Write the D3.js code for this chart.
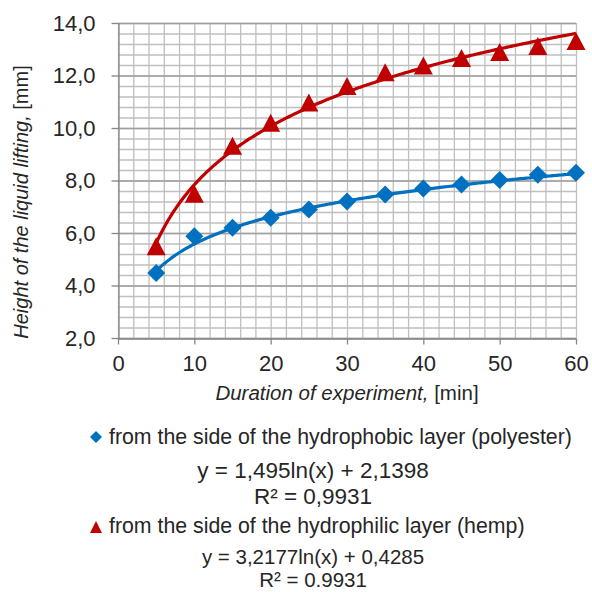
<!DOCTYPE html>
<html>
<head>
<meta charset="utf-8">
<script src="https://cdn.jsdelivr.net/npm/d3@7"></script>
<style>
  body { margin: 0; background: #fff; }
  text { font-family: "Liberation Sans", Arial, sans-serif; fill: #262626; }
</style>
</head>
<body>
<div id="chart-area"></div>
<script>
// data
const minutes = [5, 10, 15, 20, 25, 30, 35, 40, 45, 50, 55, 60];
const polyester = [4.48, 5.88, 6.2, 6.58, 6.9, 7.2, 7.47, 7.7, 7.85, 8.02, 8.22, 8.3];
const hemp = [5.5, 7.5, 9.32, 10.2, 10.97, 11.6, 12.12, 12.38, 12.67, 12.9, 13.12, 13.31];
// log trendlines y = a ln(x) + b, as printed on the chart
const polyesterFit = [1.495, 2.1398];
const hempFit = [3.2177, 0.4285];
const xTicks = [0, 10, 20, 30, 40, 50, 60];
const yTicks = [2, 4, 6, 8, 10, 12, 14];
const legendLabels = [
	"from the side of the hydrophobic layer (polyester)",
	"from the side of the hydrophilic layer (hemp)"
];
const equations = [
	["y = 1,495ln(x) + 2,1398", "R² = 0,9931"],
	["y = 3,2177ln(x) + 0,4285", "R² = 0.9931"]
];

const blue = "#0070c0";
const red = "#c00000";

const svg = d3.select("#chart-area")
	.append("svg")
	.attr("width", 592)
	.attr("height", 592);

const x = d3.scaleLinear().domain([0, 60]).range([118, 576]);
const y = d3.scaleLinear().domain([2, 14]).range([338, 23]);

// minor grid
svg.append("g")
	.selectAll("line")
	.data(d3.range(0, 61, 2))
	.enter().append("line")
	.attr("x1", d => x(d) + 0.5).attr("x2", d => x(d) + 0.5)
	.attr("y1", y(14)).attr("y2", y(2))
	.attr("stroke", "#bfbfbf").attr("stroke-width", 1.3);

svg.append("g")
	.selectAll("line")
	.data(d3.range(2, 14.01, 0.4))
	.enter().append("line")
	.attr("x1", x(0)).attr("x2", x(60))
	.attr("y1", d => y(d) + 0.5).attr("y2", d => y(d) + 0.5)
	.attr("stroke", "#bfbfbf").attr("stroke-width", 1.3);

// major horizontal grid
svg.append("g")
	.selectAll("line")
	.data(yTicks)
	.enter().append("line")
	.attr("x1", x(0)).attr("x2", x(60))
	.attr("y1", d => y(d) + 0.5).attr("y2", d => y(d) + 0.5)
	.attr("stroke", "#a0a0a0").attr("stroke-width", 1.4);

// axes
const xAxisCall = d3.axisBottom(x)
	.tickValues(xTicks)
	.tickSize(6)
	.tickSizeOuter(0)
	.tickPadding(11)
	.tickFormat(d3.format("d"));
const xAxis = svg.append("g")
	.attr("class", "x-axis")
	.attr("transform", `translate(0, ${y(2) + 0.5})`)
	.call(xAxisCall);

const yAxisCall = d3.axisLeft(y)
	.tickValues(yTicks)
	.tickSize(7)
	.tickSizeOuter(0)
	.tickPadding(16)
	.tickFormat(d => d3.format(".1f")(d).replace(".", ","));
const yAxis = svg.append("g")
	.attr("class", "y-axis")
	.attr("transform", `translate(${x(0) + 0.5}, 0)`)
	.call(yAxisCall);

[xAxis, yAxis].forEach(a => {
	a.select(".domain").attr("stroke", "#868686").attr("stroke-width", 1.3);
	a.selectAll(".tick line").attr("stroke", "#868686").attr("stroke-width", 1.3);
	a.selectAll(".tick text")
		.attr("font-size", "22px")
		.attr("font-family", "Liberation Sans, Arial, sans-serif")
		.attr("fill", "#262626");
});

// x-axis label
const xLabel = svg.append("text")
	.attr("x", (x(0) + x(60)) / 2)
	.attr("y", 400)
	.attr("font-size", "20.5px")
	.attr("text-anchor", "middle");
xLabel.append("tspan").attr("font-style", "italic").text("Duration of experiment,");
xLabel.append("tspan").text(" [min]");

// y-axis label
const yLabel = svg.append("text")
	.attr("transform", "translate(28, 202) rotate(-90)")
	.attr("font-size", "20px")
	.attr("text-anchor", "middle");
yLabel.append("tspan").attr("font-style", "italic").text("Height of the liquid lifting,");
yLabel.append("tspan").text(" [mm]");

// trendlines
const line = d3.line().x(d => x(d[0])).y(d => y(d[1])).curve(d3.curveLinear);
const span = d3.range(5, 60.001, 0.25);
[[polyesterFit, blue], [hempFit, red]].forEach(([fit, color]) => {
	svg.append("path")
		.datum(span.map(t => [t, fit[0] * Math.log(t) + fit[1]]))
		.attr("d", line)
		.attr("fill", "none")
		.attr("stroke", color)
		.attr("stroke-width", 3.2);
});

// markers
const diamond = s => `M0,${-s}L${s},0L0,${s}L${-s},0Z`;
const triangle = (w, h) => `M0,${-h / 2}L${w / 2},${h / 2}L${-w / 2},${h / 2}Z`;

svg.append("g")
	.selectAll("path")
	.data(minutes.map((m, i) => [m, polyester[i]]))
	.enter().append("path")
	.attr("d", diamond(9))
	.attr("transform", d => `translate(${x(d[0])}, ${y(d[1])})`)
	.attr("fill", blue);

svg.append("g")
	.selectAll("path")
	.data(minutes.map((m, i) => [m, hemp[i]]))
	.enter().append("path")
	.attr("d", triangle(19, 18))
	.attr("transform", d => `translate(${x(d[0])}, ${y(d[1])})`)
	.attr("fill", red);

// legend
const legend = svg.append("g");
legend.append("path")
	.attr("d", diamond(6))
	.attr("transform", "translate(96, 437)")
	.attr("fill", blue);
legend.append("path")
	.attr("d", triangle(12, 12))
	.attr("transform", "translate(96, 527)")
	.attr("fill", red);

[444, 533].forEach((ty, i) => {
	legend.append("text")
		.attr("x", 109)
		.attr("y", ty)
		.attr("font-size", "21.3px")
		.attr("fill", "#000")
		.text(legendLabels[i]);
});

// equation + R² as one two-line text block per series
[[478, 26, 22.5], [564, 23, 20.5]].forEach(([ty, gap, fs], i) => {
	const eq = legend.append("text")
		.attr("x", 313)
		.attr("y", ty)
		.attr("font-size", `${fs}px`)
		.attr("text-anchor", "middle")
		.attr("fill", "#000");
	eq.append("tspan").attr("x", 313).text(equations[i][0]);
	eq.append("tspan").attr("x", 313).attr("dy", gap).text(equations[i][1]);
});
</script>
</body>
</html>
